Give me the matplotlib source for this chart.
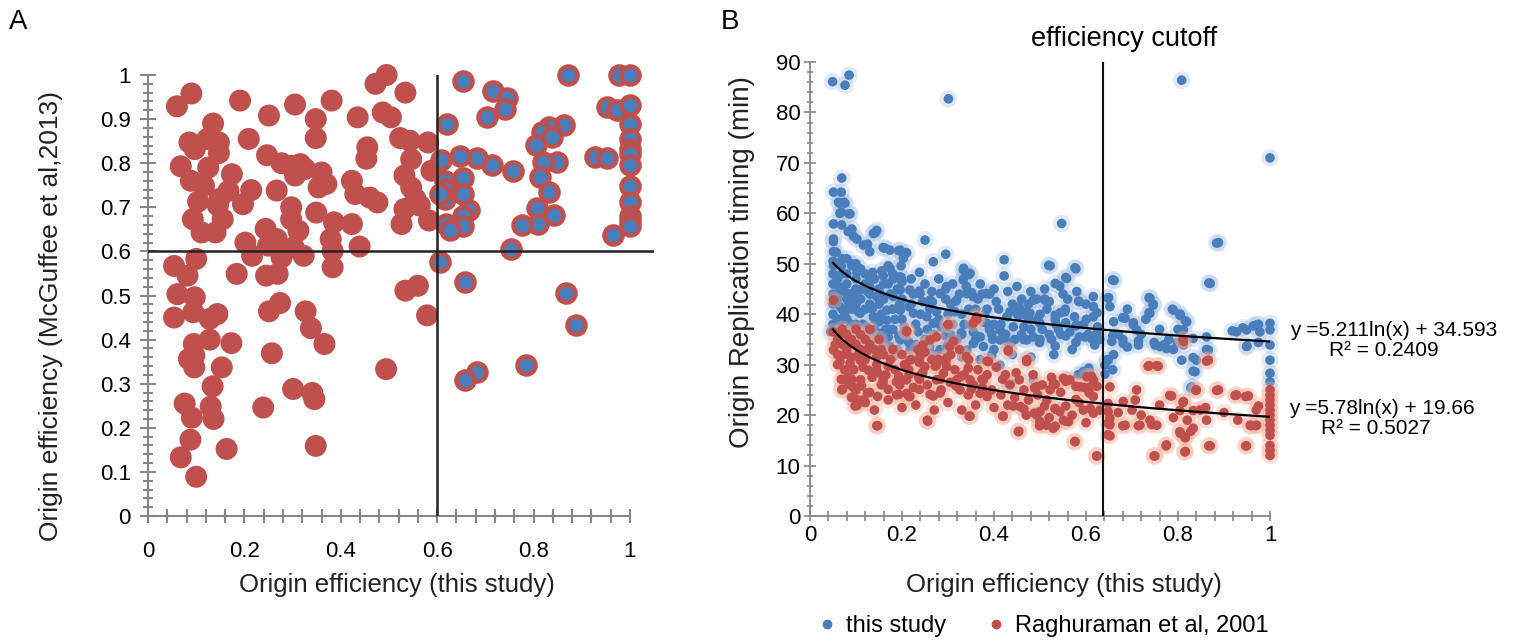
import numpy as np
import matplotlib
matplotlib.use("Agg")
import matplotlib.pyplot as plt
from matplotlib.lines import Line2D

SANS = ['Liberation Sans', 'DejaVu Sans']

# ---------------- Panel A data ----------------
a_red_x = [0.06,0.09,0.135,0.191,0.251,0.305,0.348,0.348,0.381,0.435,0.472,0.495,0.487,0.504,0.534,0.523,0.543,0.581,
           0.086,0.097,0.123,0.147,0.147,0.209,0.068,0.125,0.247,0.277,0.297,0.316,0.305,0.326,0.174,0.089,0.116,0.167,
           0.148,0.145,0.104,0.093,0.111,0.14,0.155,0.214,0.197,0.267,0.36,0.37,0.354,0.423,0.43,0.455,0.453,0.46,0.476,
           0.532,0.546,0.588,0.546,0.555,0.532,0.564,0.583,0.526,0.297,0.297,0.349,0.386,0.423,0.244,0.312,0.379,0.202,
           0.249,0.216,0.277,0.302,0.323,0.383,0.439,0.383,0.267,0.054,0.082,0.1,0.184,0.245,0.269,0.061,0.097,0.534,0.56,
           0.054,0.094,0.128,0.144,0.251,0.274,0.327,0.338,0.579,0.095,0.128,0.173,0.366,0.085,0.096,0.096,0.153,0.257,
           0.494,0.134,0.301,0.341,0.345,0.076,0.13,0.239,0.091,0.136,0.088,0.163,0.068,0.348,0.1]
a_red_y = [0.929,0.958,0.89,0.942,0.908,0.933,0.90,0.857,0.942,0.904,0.98,1.0,0.915,0.904,0.96,0.857,0.851,0.847,
           0.847,0.832,0.855,0.847,0.823,0.855,0.793,0.79,0.818,0.80,0.794,0.798,0.772,0.787,0.775,0.76,0.749,0.737,
           0.719,0.704,0.713,0.673,0.643,0.643,0.673,0.739,0.707,0.738,0.779,0.753,0.745,0.76,0.73,0.836,0.81,0.722,0.711,
           0.772,0.809,0.783,0.745,0.719,0.696,0.704,0.67,0.662,0.70,0.673,0.688,0.666,0.662,0.651,0.647,0.628,0.62,
           0.613,0.59,0.586,0.609,0.59,0.601,0.611,0.564,0.628,0.567,0.545,0.583,0.549,0.545,0.549,0.503,0.496,0.511,0.522,
           0.45,0.462,0.447,0.458,0.464,0.483,0.464,0.426,0.455,0.39,0.40,0.392,0.39,0.356,0.364,0.337,0.337,0.369,
           0.333,0.294,0.288,0.279,0.265,0.255,0.248,0.246,0.223,0.22,0.173,0.152,0.133,0.159,0.089]

a_both_x = [0.653,0.716,0.744,0.741,0.704,0.62,0.871,0.978,1.0,0.953,0.973,0.999,1.0,1.0,1.0,1.0,1.0,1.0,1.0,1.0,1.0,1.0,
            0.864,0.832,0.817,0.838,0.806,0.848,0.82,0.813,0.832,0.808,0.843,0.81,0.776,0.927,0.953,0.964,0.758,0.713,
            0.683,0.648,0.608,0.617,0.617,0.617,0.654,0.654,0.665,0.654,0.654,0.618,0.627,0.606,0.753,0.606,0.657,0.868,
            0.887,0.785,0.682,0.658]
a_both_y = [0.987,0.964,0.947,0.923,0.904,0.889,1.0,1.0,1.0,0.927,0.921,0.932,0.889,0.856,0.832,0.82,0.797,0.749,0.711,0.681,0.67,0.658,
            0.887,0.881,0.87,0.859,0.842,0.802,0.802,0.768,0.734,0.698,0.682,0.662,0.66,0.813,0.811,0.637,0.783,0.796,
            0.812,0.817,0.808,0.76,0.741,0.719,0.766,0.73,0.695,0.681,0.658,0.662,0.648,0.73,0.605,0.575,0.531,0.505,
            0.432,0.342,0.326,0.309]
a_cutoff_x = 0.6
a_cutoff_y = 0.6

# ---------------- Panel B data ----------------
b_blue_x = [0.049,0.076,0.085,0.301,0.069,0.065,0.076,0.065,0.087,0.051,0.069,0.083,0.138,0.145,0.095,0.25,0.051,0.116,0.13,
            0.163,0.174,0.196,0.21,0.203,0.051,0.295,0.268,0.422,0.422,0.238,0.333,0.348,0.333,0.156,0.174,0.196,
            0.808,1.0,0.547,0.888,0.522,0.578,0.558,0.533,0.543,0.661,0.87,
            0.585,0.616,0.616,0.616,0.648,0.652,0.739,0.746,0.739,0.79,0.804,0.819,0.812,0.511,0.533,0.554,0.685,0.703,0.71,
            0.58,0.598,0.612,0.619,0.656,0.681,0.714,0.75,0.761,0.775,0.812,0.862,0.866,0.833,0.927,0.949,0.971,0.978,0.949,
            1.0,1.0,1.0,1.0,1.0,1.0,0.808,0.84,0.837,0.83,0.648,0.641,0.606,0.594,0.583,
            0.062,0.080,0.109,0.130,0.152,0.181,0.196,0.217,0.239,0.261,0.283,0.297,0.319,0.341,0.355,0.384,0.486,0.478,
            0.457,0.428,0.442,0.413,0.384,0.370,0.355,0.341,0.319,0.297,0.268,0.254,0.225,0.196,0.167,0.138,0.109,0.087,
            0.065,0.152,0.174,0.196,0.217,0.181,0.167,0.123,0.413,0.435,0.471,0.413,0.435,0.486,0.377,0.395,
            0.519,0.576,0.658,0.867,0.884,0.334,0.346,0.334,0.556,0.493,0.51,0.584,0.649,0.68,0.703,0.737,0.746,0.737,
            0.788,0.805,0.816,0.544,0.448,0.471,0.374,0.391,0.351,0.317,0.306,0.266,0.238,0.295,0.198,0.204,0.193,0.159,
            0.142,0.125,0.102,0.091,0.062,0.074,0.068,0.085,0.051,0.068,0.051,0.057,0.051,0.068,0.091,0.057,0.102,0.136,
            0.159,0.181,0.17,0.198,
            0.918,0.941,0.964,0.975,0.95,0.975,0.799,0.833,0.833,0.828,0.862,0.646,0.658,0.641,0.607,0.595,0.556,0.431,
            0.624,0.658,0.68,0.714,0.748,0.771,0.454,0.476,0.499,0.533,0.556,0.578,0.601,0.624,0.329,0.363,0.397,0.431,
            0.465,0.499,0.533,0.556,0.578,0.215,0.249,0.283,0.193,0.159,0.136,0.102,0.079,0.261,0.295,
            0.05,0.05,0.05,0.05,0.05,0.05,0.05,0.06,0.06,0.06,0.07,0.07,0.07,0.08,0.08,0.08,0.08,0.09,0.09,0.09,0.1,0.1,
            0.1,0.1,0.11,0.11,0.12,0.12,0.13,0.13,0.14,0.14,0.15,0.15,0.16,0.17,0.17,0.18,0.19,0.2,0.2,0.22,0.23,0.24,
            0.26,0.27,0.28,0.3,0.31,0.33,0.35,0.36,0.38,0.4,0.41,0.44,0.46,0.48,0.5,0.52,0.54,0.5,0.46,0.42,0.39,0.36,
            0.33,0.3,0.27,0.25,0.23,0.2,0.18,0.16,0.14,0.12,0.1,0.08,
            0.045,0.055,0.065,0.075,0.085,0.095,0.105,0.115,0.125,0.135,0.145,0.155,0.165,0.175,0.185,0.195,0.205,0.215,
            0.225,0.235,0.245,0.255,0.265,0.275,0.285,0.295,0.305,0.315,0.325,0.335,0.345,0.355,0.365,0.375,0.385,0.395,
            0.405,0.415,0.425,0.435,0.445,0.455,0.465,0.475,0.485,0.495,0.505,0.515,0.525,0.535,0.545,0.555,0.565,0.575,
            0.585,0.595,0.605,0.625,0.63,0.66,0.67,0.69,0.72,0.73,0.76,0.78,0.8,0.79,0.69,0.66,0.57,0.53,0.48,0.44,0.4,
            0.37,0.33,0.29,0.26,0.24,0.21,0.19,0.17,0.15,0.13,0.11,0.09,0.07,0.06,0.07,0.06,0.08,0.1,0.12,0.13,0.16,0.18,
            0.2,0.22,0.25,0.28,0.31,0.34,0.37,0.4,0.43,0.45,0.48,0.51,0.55,0.58,0.6,0.56,0.52,0.47]
b_blue_y = [86.1,85.4,87.4,82.7,67.0,62.0,62.0,60.0,59.9,57.9,57.7,56.4,56.0,56.6,55.4,54.7,54.4,53.7,52.4,
            53.1,52.7,52.7,52.2,51.1,52.4,51.9,50.4,50.8,47.6,48.3,48.8,48.1,46.8,48.6,49.1,47.4,
            86.4,71.0,58.0,54.2,49.6,49.0,47.1,46.1,45.6,46.7,46.1,
            42.5,43.5,41.5,39.5,43.2,41.5,43.2,41.8,40.2,40.8,39.8,38.5,36.9,42.8,39.8,40.5,39.2,37.9,36.9,
            37.9,35.5,35.2,33.9,34.6,34.2,33.9,33.9,33.6,33.2,33.9,35.5,32.9,35.2,36.5,36.9,37.9,36.5,33.6,
            38.2,36.9,33.9,30.9,28.3,26.6,30.9,30.9,28.6,25.6,30.9,29.9,29.3,28.6,28.0,
            45.5,44.1,44.8,45.5,44.1,43.5,44.8,44.8,44.1,42.8,44.1,45.5,42.8,44.1,43.5,44.1,42.8,40.2,
            40.2,39.5,37.5,36.9,38.2,35.5,34.2,32.9,34.9,36.2,38.2,39.5,40.2,40.8,40.8,39.5,40.2,41.5,
            41.5,36.2,33.6,34.9,32.9,31.6,38.8,37.5,34.9,34.2,34.9,29.9,26.3,27.0,33.6,31.9,
            49.7,49.2,46.8,46.2,54.1,49.1,47.9,47.1,47.3,43.0,43.0,42.6,43.3,39.3,38.3,43.3,42.0,40.3,
            41.0,40.0,38.7,40.3,40.3,39.7,44.0,44.0,44.3,42.6,42.0,42.4,44.6,45.0,47.3,51.6,52.6,53.2,
            56.2,53.9,54.9,56.9,62.2,62.2,60.2,59.9,64.2,64.2,54.9,52.3,49.6,49.6,49.6,47.6,48.3,48.3,
            47.6,47.0,49.6,49.6,
            36.7,37.3,37.7,38.0,33.7,34.4,34.4,31.4,28.7,25.4,33.0,31.0,29.0,28.1,28.7,28.1,27.1,26.4,
            36.3,35.7,35.0,34.7,34.4,34.0,39.7,39.0,38.3,39.0,38.3,37.7,39.0,40.3,36.3,35.7,35.0,34.4,
            35.0,34.4,33.7,35.7,34.4,34.4,33.7,33.0,35.7,36.3,35.0,34.4,35.0,35.0,35.7,
            50.5,48,46,44,42,40,38,47,43,39,51,45,41,48,46,43,39,50,44,41,47,45,
            42,38,49,43,46,41,44,42,47,39,45,42,43,46,37,41,45,39,43,42,38,40,
            41,36,39,40,38,40,38,41,40,38,41,42,43,37,40,36,37,35,36,36,37,35,
            36,34,32,35,34,36,37,34,37,35,36,37,
            36.5,37.5,38.5,40,42,43.5,40.5,38,44.5,41,43.5,40,37,44,39,42,37.5,41.5,
            44,36.5,42.5,37,44.5,40.5,37.5,43,36,40.5,44,38,41,36.5,43,38.5,41,36,
            42.5,38,36,40.5,35,41.5,37.5,42,35.5,39,37,41,35,38,36,41,36.5,39.5,
            35.5,38,36,37.5,35,38.5,36,41,36,39,37,35,37,33,33.5,32,33,32,31.5,32,33,
            31,31.5,33,33.5,31.5,35,33,35.5,38.5,36,34.5,38,36,44,48,50,51,50,48,47,46,48,
            46.5,47,46,47,46,45.5,46,45,44.5,45.5,44.5,45,44,44.5,42,43,42.5,40.5]

b_red_x = [0.812,0.866,0.735,0.757,1.0,1.0,1.0,1.0,1.0,1.0,1.0,1.0,1.0,1.0,1.0,1.0,1.0,
           0.84,0.888,0.927,0.953,0.975,0.786,0.812,0.804,0.833,0.848,0.862,0.957,0.971,0.804,0.815,0.833,
           0.775,0.815,0.87,0.949,0.75,0.623,0.648,0.648,0.648,0.648,0.652,0.681,0.707,0.71,0.739,0.754,0.717,0.685,
           0.576,0.529,0.551,0.562,0.514,0.533,0.543,0.594,0.609,0.616,0.616,0.587,0.609,0.551,0.529,0.522,0.602,0.616,
           0.5,0.5,
           0.051,0.051,0.065,0.087,0.109,0.123,0.145,0.072,0.083,0.094,0.112,0.069,0.105,0.116,0.098,0.145,0.127,0.145,
           0.159,0.188,0.21,0.239,0.25,0.236,0.188,0.21,0.217,0.268,0.256,0.217,0.246,0.261,0.275,0.304,0.312,0.297,
           0.297,0.29,0.319,0.326,0.344,0.344,0.348,0.348,0.377,0.37,0.384,0.388,0.42,0.431,0.457,0.453,0.471,0.493,
           0.493,0.5,0.355,0.362,0.301,0.21,0.275,
           0.068,0.07,0.102,0.096,0.091,0.147,0.255,0.346,0.419,0.454,0.499,0.533,0.556,0.576,0.624,0.652,0.652,0.652,
           0.68,0.714,0.743,0.748,0.774,0.816,0.816,0.828,0.805,0.867,0.947,0.958,0.969,0.924,0.947,0.884,0.839,0.782,
           0.811,0.862,0.737,0.754,0.811,0.431,0.385,0.306,0.34,0.363,0.21,0.471,
           0.448,0.419,0.488,0.533,0.556,0.578,0.612,0.624,0.607,0.578,0.556,0.533,0.51,0.488,0.465,0.442,
           0.385,0.351,0.317,0.283,0.261,0.238,0.215,0.193,0.17,0.147,0.125,0.102,0.159,0.193,0.238,0.283,0.329,0.374,
           0.272,0.238,0.215,0.193,0.17,0.147,
           0.05,0.06,0.07,0.07,0.08,0.08,0.09,0.1,0.1,0.11,0.11,0.12,0.13,0.14,0.15,0.16,0.12,0.09,0.06,0.18,0.2,0.22,
           0.25,0.28,0.13,0.30,0.36,
           0.055,0.065,0.075,0.085,0.095,0.105,0.115,0.125,0.135,0.145,0.155,0.165,0.175,0.185,0.195,0.205,0.215,0.225,
           0.235,0.245,0.255,0.265,0.275,0.285,0.295,0.305,0.315,0.325,0.335,0.345,0.355,0.365,0.375,0.385,0.395,0.405,
           0.415,0.425,0.435,0.445,0.455,0.465,0.475,0.485,0.495,0.505,0.515,0.525,0.545,0.565,0.585,0.595,0.075,0.085,
           0.11,0.13,0.155,0.06,0.1,0.12,0.14,0.09,0.17,0.2,0.23,0.27,0.3,0.33,0.36,0.4,0.43,0.47,0.52,0.57,0.6,0.63,
           0.67,0.7,0.72,0.76,0.79,0.82,0.86,0.9,0.93,0.97]
b_red_y = [34.6,30.9,29.7,29.7,25.0,24.0,23.0,22.0,21.0,20.0,19.0,18.0,17.0,16.0,14.0,13.0,12.0,
           25.0,25.0,24.0,23.8,21.8,23.8,22.7,20.9,20.9,21.0,19.0,18.0,18.0,16.7,15.7,17.4,
           14.1,12.7,13.9,13.9,11.9,11.9,16.1,18.4,20.7,22.3,25.6,22.7,23.0,25.0,19.0,18.0,18.0,18.0,
           14.7,17.4,19.0,18.7,18.0,21.3,20.7,21.0,21.3,20.4,23.7,25.6,25.6,27.3,26.3,25.0,27.6,27.0,
           20.7,18.7,
           42.8,32.9,30.6,30.3,30.9,32.6,31.6,27.0,27.6,25.6,25.8,25.0,22.7,23.0,21.8,17.9,28.9,28.9,
           27.0,26.6,27.0,31.6,29.6,27.6,24.0,24.3,23.7,23.8,18.8,30.9,33.9,34.9,35.5,33.6,34.6,31.3,
           29.6,28.3,27.0,25.0,24.0,29.3,27.0,19.8,27.0,24.3,24.3,30.6,19.8,32.9,21.7,16.7,30.6,25.6,
           20.0,18.0,38.2,39.5,37.9,36.5,29.9,
           27.1,25.1,21.9,25.4,27.1,17.9,19.0,19.8,19.8,16.8,17.9,17.8,18.8,14.8,11.9,15.9,18.1,19.4,
           17.9,17.9,18.1,11.9,13.9,12.8,15.5,16.8,16.4,13.9,13.9,17.9,17.9,23.9,23.7,24.9,24.9,23.9,
           22.5,30.7,29.8,29.8,35.0,32.7,30.7,32.0,31.6,39.0,36.7,31.0,
           28.4,27.1,25.4,26.1,26.7,25.7,27.7,25.7,24.4,23.1,21.8,21.2,21.8,20.4,21.2,21.8,
           23.7,25.1,25.8,24.4,24.1,25.1,23.7,24.1,25.1,23.7,24.4,23.1,26.4,26.4,27.1,27.1,27.7,27.1,
           29.7,30.4,29.0,27.7,29.7,28.4,
           36.5,35,37,34,36,33,35,37,34,33,36,35,34,33,35,32,31,31.5,32,33,32,31,
           32.5,31,37,38,39,
           34,36,32,34.5,29,32,29.5,33,27.5,30,33,28,31,29,26,30,28,25.5,
           33,28.5,26,31,27,25,30.5,26.5,29,33,28,31,26,29,25.5,28,25,29.5,
           24,28,26,23.5,27,25,23,28,24,26,23,27.5,24.5,27,22.5,25.5,29,26,
           27,24.5,26,30,25,22.5,21,23.5,23,21.5,22,21,22.5,21,22,21.5,22,20,19.5,20,18.5,21,
           20.5,21,20,22,19.5,19,21.5,20.5,19,21]

# trendline coefficients (y = a*ln(x) + b) as fitted in the source
blue_fit = (-5.211, 34.593)
red_fit = (-5.78, 19.66)
b_cutoff = 0.637

RED = '#C0504D'
BLUE = '#4A7EBB'
GRAY = '#868686'

fig = plt.figure(figsize=(15.2, 6.42), dpi=100)

# ================= Panel A =================
axA = fig.add_axes([148/1520, 1-516/642, 506/1520, 441/642])
axA.set_xlim(0, 506/482)
axA.set_ylim(0, 1)
axA.scatter(a_red_x, a_red_y, s=250, color=RED, edgecolors='none', clip_on=False, zorder=3)
axA.scatter(a_both_x, a_both_y, s=170, color=BLUE, edgecolors=RED, linewidths=3.2, clip_on=False, zorder=4)
axA.axvline(a_cutoff_x, ymin=0, ymax=1, color='#222222', lw=1.8, zorder=5)
axA.axhline(a_cutoff_y, xmin=0, xmax=1, color='#222222', lw=1.8, zorder=5)
for s in ['top', 'right']:
    axA.spines[s].set_visible(False)
for s in ['left', 'bottom']:
    axA.spines[s].set_color(GRAY)
    axA.spines[s].set_linewidth(1.5)
axA.spines['bottom'].set_bounds(0, 1)
axA.set_xticks(np.arange(0, 1.01, 0.2))
axA.set_xticklabels(['0', '0.2', '0.4', '0.6', '0.8', '1'])
axA.set_xticks(np.arange(0, 1.001, 0.04), minor=True)
axA.set_yticks(np.arange(0, 1.01, 0.1))
axA.set_yticklabels(['0', '0.1', '0.2', '0.3', '0.4', '0.5', '0.6', '0.7', '0.8', '0.9', '1'])
axA.set_yticks(np.arange(0, 1.001, 0.02), minor=True)
axA.tick_params(axis='both', which='both', direction='inout', color=GRAY, width=1.5)
axA.tick_params(axis='y', which='major', length=11, pad=7)
axA.tick_params(axis='y', which='minor', length=7)
axA.tick_params(axis='x', which='both', length=10, pad=13)
for lab in axA.get_xticklabels() + axA.get_yticklabels():
    lab.set_family(SANS)
    lab.set_fontsize(16)

fig.text(18/1520, 1-22/642, 'A', fontsize=20, family=SANS, ha='center', va='center')
fig.text(51/1520, 1-316/642, 'Origin efficiency (McGuffee et al,2013)', rotation=90,
         fontsize=19, family=SANS, ha='center', va='center', color='#222222')
fig.text(397/1520, 1-585/642, 'Origin efficiency (this study)', fontsize=18.5, family=SANS,
         ha='center', va='center', color='#222222')

# ================= Panel B =================
axB = fig.add_axes([810/1520, 1-516/642, 460/1520, 454/642])
axB.set_xlim(0, 1)
axB.set_ylim(0, 90)
axB.scatter(b_blue_x, b_blue_y, s=160, color='#A9C3E6', alpha=0.35, edgecolors='none', clip_on=False, zorder=2)
axB.scatter(b_blue_x, b_blue_y, s=48, color=BLUE, edgecolors='none', clip_on=False, zorder=3)
axB.scatter(b_red_x, b_red_y, s=160, color='#F4B09A', alpha=0.35, edgecolors='none', clip_on=False, zorder=4)
axB.scatter(b_red_x, b_red_y, s=48, color=RED, edgecolors='none', clip_on=False, zorder=5)

xs = np.linspace(0.05, 1.0, 200)
axB.plot(xs, blue_fit[0]*np.log(xs) + blue_fit[1], color='black', lw=1.6, zorder=6)
axB.plot(xs, red_fit[0]*np.log(xs) + red_fit[1], color='black', lw=1.6, zorder=6)
axB.axvline(b_cutoff, color='#111111', lw=1.5, zorder=7)

for s in ['top', 'right']:
    axB.spines[s].set_visible(False)
for s in ['left', 'bottom']:
    axB.spines[s].set_color(GRAY)
    axB.spines[s].set_linewidth(1.3)
axB.set_xticks(np.arange(0, 1.01, 0.2))
axB.set_xticklabels(['0', '0.2', '0.4', '0.6', '0.8', '1'])
axB.set_xticks(np.arange(0, 1.001, 0.04), minor=True)
axB.set_yticks(np.arange(0, 91, 10))
axB.set_yticks(np.arange(0, 90.1, 2), minor=True)
axB.tick_params(axis='both', which='both', direction='inout', color=GRAY, width=1.2)
axB.tick_params(axis='y', which='major', length=8, pad=3)
axB.tick_params(axis='y', which='minor', length=5)
axB.tick_params(axis='x', which='both', length=7, pad=3)
for lab in axB.get_xticklabels() + axB.get_yticklabels():
    lab.set_family(SANS)
    lab.set_fontsize(16)

fig.text(730/1520, 1-22/642, 'B', fontsize=20, family=SANS, ha='center', va='center')
fig.text(1124/1520, 1-39/642, 'efficiency cutoff', fontsize=19.5, family=SANS, ha='center', va='center')
fig.text(742/1520, 1-262/642, 'Origin Replication timing (min)', rotation=90, fontsize=20,
         family=SANS, ha='center', va='center', color='#222222')
fig.text(1064/1520, 1-585/642, 'Origin efficiency (this study)', fontsize=18.5, family=SANS,
         ha='center', va='center', color='#222222')

fig.text(1290/1520, 1-331/642, 'y =5.211ln(x) + 34.593', fontsize=15, family=SANS, ha='left', va='center')
fig.text(1329/1520, 1-351/642, 'R² = 0.2409', fontsize=15, family=SANS, ha='left', va='center')
fig.text(1289/1520, 1-408/642, 'y =5.78ln(x) + 19.66', fontsize=15, family=SANS, ha='left', va='center')
fig.text(1321/1520, 1-428/642, 'R² = 0.5027', fontsize=15, family=SANS, ha='left', va='center')

handles = [Line2D([], [], ls='none', marker='o', markersize=6, color=BLUE),
           Line2D([], [], ls='none', marker='o', markersize=6, color=RED)]
leg = fig.legend(handles, ['this study', 'Raghuraman et al, 2001'], loc='center',
                 bbox_to_anchor=(1042/1520, 1-626/642), ncol=2, frameon=False,
                 prop={'family': SANS, 'size': 17}, handletextpad=0.3, columnspacing=1.6,
                 handlelength=1.0)

fig.savefig('out.png', dpi=100)
